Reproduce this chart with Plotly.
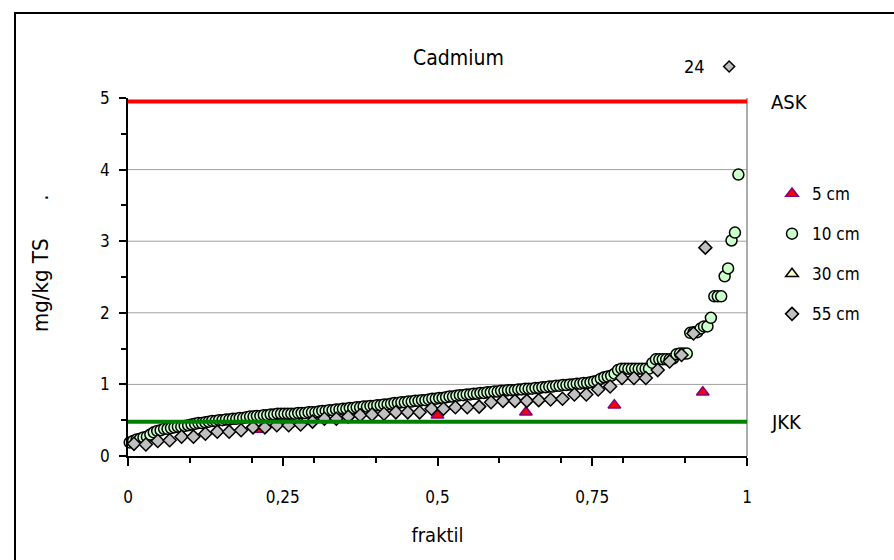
import plotly.graph_objects as go

# ---- Cadmium concentrations (mg/kg TS) by depth, sorted ascending ----
# Fractile of each sample is (rank - 0.5) / n_samples; None = not plotted.
N_5CM = 7
CD_5CM = [None, 0.37, None, 0.57, 0.61, 0.71, 0.89]

N_10CM = 180
CD_10CM = [
    0.19, 0.21, 0.23, 0.24, 0.26, 0.27, 0.30, 0.33, 0.35, 0.36,
    0.38, 0.38, 0.39, 0.40, 0.41, 0.41, 0.42, 0.43, 0.44, 0.45,
    0.46, 0.46, 0.47, 0.48, 0.49, 0.49, 0.50, 0.50, 0.51, 0.51,
    0.52, 0.52, 0.53, 0.53, 0.54, 0.55, 0.55, 0.56, 0.56, 0.57,
    0.57, 0.58, 0.58, 0.59, 0.59, 0.59, 0.59, 0.59, 0.59, 0.60,
    0.60, 0.60, 0.61, 0.61, 0.61, 0.62, 0.63, 0.63, 0.64, 0.64,
    0.65, 0.65, 0.66, 0.66, 0.67, 0.67, 0.68, 0.68, 0.69, 0.69,
    0.70, 0.70, 0.71, 0.71, 0.72, 0.72, 0.73, 0.74, 0.74, 0.75,
    0.75, 0.76, 0.76, 0.77, 0.77, 0.78, 0.78, 0.79, 0.80, 0.80,
    0.81, 0.81, 0.82, 0.83, 0.83, 0.84, 0.85, 0.85, 0.86, 0.86,
    0.87, 0.87, 0.88, 0.88, 0.89, 0.89, 0.90, 0.90, 0.91, 0.91,
    0.92, 0.92, 0.92, 0.93, 0.93, 0.94, 0.94, 0.94, 0.95, 0.95,
    0.96, 0.96, 0.97, 0.97, 0.98, 0.98, 0.99, 0.99, 1.00, 1.00,
    1.01, 1.01, 1.02, 1.02, 1.03, 1.04, 1.05, 1.08, 1.10, 1.11,
    1.12, 1.15, 1.20, 1.22, 1.22, 1.22, 1.22, 1.22, 1.22, 1.22,
    1.22, 1.22, 1.30, 1.35, 1.35, 1.35, 1.35, 1.35, 1.36, 1.42,
    1.43, 1.43, 1.43, 1.72, 1.73, 1.73, 1.78, 1.81, 1.81, 1.93,
    2.23, 2.23, 2.23, 2.51, 2.62, 3.01, 3.12, 3.93,
]

# 30 cm samples lie underneath the other series
N_30CM = 1
CD_30CM = [None]

N_55CM = 52
CD_55CM = [
    0.17, 0.16, 0.21, 0.22, 0.27, 0.27, 0.31, 0.34, 0.34, 0.36,
    0.40, 0.40, 0.43, 0.43, 0.44, 0.48, 0.52, 0.52, 0.55, 0.57,
    0.58, 0.59, 0.61, 0.61, 0.61, 0.66, 0.66, 0.68, 0.68, 0.69,
    0.75, 0.77, 0.77, 0.77, 0.78, 0.79, 0.80, 0.86, 0.86, 0.93,
    0.97, 1.09, 1.09, 1.09, 1.20, 1.32, 1.41, 1.71, 2.91, None,
    24, None,
]

# Reference levels
ASK = 4.95
JKK = 0.48

Y_MAX = 5
X_TICKS = [0, 0.25, 0.5, 0.75, 1]
X_TICK_TEXT = ["0", "0,25", "0,5", "0,75", "1"]
Y_TICKS = [0, 1, 2, 3, 4, 5]

# ---- layout geometry (pixels) ----
W, H = 894, 560
L, R, T, B = 128, 147, 98, 104
PW, PH = W - L - R, H - T - B
OFFSCALE_Y = 5.44          # where values above the axis maximum are parked
FONT = "DejaVu Sans Condensed, DejaVu Sans, sans-serif"


def txt(size):
    return dict(family=FONT, size=size, color="#000")


def px_x(px):
    return (px - L) / PW


def px_y(py):
    return (H - B - py) / PH


def fractiles(values, n):
    xs, ys = [], []
    for rank, v in enumerate(values, start=1):
        if v is None or v > Y_MAX:
            continue
        xs.append((rank - 0.5) / n)
        ys.append(v)
    return xs, ys


def offscale(values, n):
    return [((rank - 0.5) / n, v) for rank, v in enumerate(values, start=1)
            if v is not None and v > Y_MAX]


fig = go.Figure()

series = [
    ("5 cm", CD_5CM, N_5CM, dict(symbol="triangle-up", size=11, color="#FF0000",
                                 line=dict(color="#800080", width=1.5))),
    ("10 cm", CD_10CM, N_10CM, dict(symbol="circle", size=11, color="#CCFFCC",
                                    line=dict(color="#000000", width=1.5))),
    ("30 cm", CD_30CM, N_30CM, dict(symbol="triangle-up", size=11, color="#FFFFCC",
                                    line=dict(color="#000000", width=1.5))),
    ("55 cm", CD_55CM, N_55CM, dict(symbol="diamond", size=10, color="#C0C0C0",
                                    line=dict(color="#000000", width=1.5))),
]

DIAMOND_PATH = "M0,5.5L5.5,0L0,-5.5L-5.5,0Z"

for name, vals, n, marker in series:
    xs, ys = fractiles(vals, n)
    if not xs:
        xs, ys = [None], [None]
    fig.add_trace(go.Scatter(
        x=xs, y=ys, mode="markers", name=name, marker=marker,
        cliponaxis=False, legendgroup=name,
    ))
    # values above the axis maximum: marker parked above the plot + value label
    for fx, v in offscale(vals, n):
        yp = OFFSCALE_Y / Y_MAX
        fig.add_shape(type="path", xref="paper", yref="paper",
                      xsizemode="pixel", ysizemode="pixel",
                      xanchor=fx, yanchor=yp, path=DIAMOND_PATH,
                      fillcolor=marker["color"],
                      line=dict(color="#000", width=1.5))
        fig.add_annotation(x=fx, y=yp, xref="paper", yref="paper",
                           text=f"{v:g}", showarrow=False, xanchor="right",
                           yanchor="middle", xshift=-22, font=txt(18))

# Reference lines
fig.add_trace(go.Scatter(x=[0, 1], y=[ASK, ASK], mode="lines",
                         line=dict(color="#FF0000", width=4),
                         showlegend=False, hoverinfo="skip", cliponaxis=False))
fig.add_trace(go.Scatter(x=[0, 1], y=[JKK, JKK], mode="lines",
                         line=dict(color="#008000", width=4),
                         showlegend=False, hoverinfo="skip", cliponaxis=False))

for label, level in (("ASK", ASK), ("JKK", JKK)):
    fig.add_annotation(x=px_x(769), xref="paper", y=level, yref="y",
                       text=label, showarrow=False, xanchor="left",
                       yanchor="middle", font=txt(20))

# Title and y-axis caption
fig.add_annotation(x=px_x(458), y=px_y(58), xref="paper", yref="paper",
                   text="Cadmium", showarrow=False, xanchor="center",
                   yanchor="middle", font=txt(21))
fig.add_annotation(x=px_x(40), y=px_y(263), xref="paper", yref="paper",
                   text="mg/kg TS      .", showarrow=False, textangle=-90,
                   xanchor="center", yanchor="middle", font=txt(22))

# Horizontal gridlines inside the plot
for v in Y_TICKS:
    if 0 < v < Y_MAX:
        fig.add_shape(type="line", xref="paper", yref="y", x0=0, x1=1,
                      y0=v, y1=v, line=dict(color="#A0A0A0", width=1),
                      layer="below")

# Plot-area right border (grey) and outer chart frame (black)
fig.add_shape(type="line", xref="paper", yref="paper", x0=1, x1=1, y0=0, y1=1,
              line=dict(color="#909090", width=1.5), layer="below")
fig.add_shape(type="rect", xref="paper", yref="paper",
              x0=px_x(15), x1=px_x(W + 20), y0=px_y(H + 20), y1=px_y(13),
              line=dict(color="#000000", width=2), layer="below")

fig.update_layout(
    width=W, height=H,
    margin=dict(l=L, r=R, t=T, b=B, pad=0),
    paper_bgcolor="white", plot_bgcolor="white",
    font=txt(17),
    showlegend=True,
    legend=dict(x=px_x(772), xanchor="left", y=px_y(176), yanchor="top",
                font=txt(17), tracegroupgap=15, bgcolor="rgba(0,0,0,0)"),
    xaxis=dict(
        range=[0, 1], tickvals=X_TICKS, ticktext=X_TICK_TEXT,
        ticks="outside", ticklen=8, tickwidth=1.5, tickcolor="#000",
        minor=dict(dtick=0.1, tick0=0, ticks="outside", ticklen=5,
                   tickwidth=1.5, tickcolor="#000", showgrid=False),
        showline=True, linecolor="#000", linewidth=1.5,
        showgrid=False, zeroline=False,
        ticklabelstandoff=17, tickfont=txt(17),
        title=dict(text="fraktil", standoff=22, font=txt(20)),
    ),
    yaxis=dict(
        range=[0, Y_MAX], tickvals=Y_TICKS, tickfont=txt(17),
        ticks="outside", ticklen=7, tickwidth=1.5, tickcolor="#000",
        minor=dict(dtick=0.5, ticks="outside", ticklen=5, tickwidth=1.5,
                   tickcolor="#000", showgrid=False),
        showline=True, linecolor="#000", linewidth=1.5,
        showgrid=False, zeroline=False, ticklabelstandoff=6,
    ),
)

fig.write_html("out.html")
